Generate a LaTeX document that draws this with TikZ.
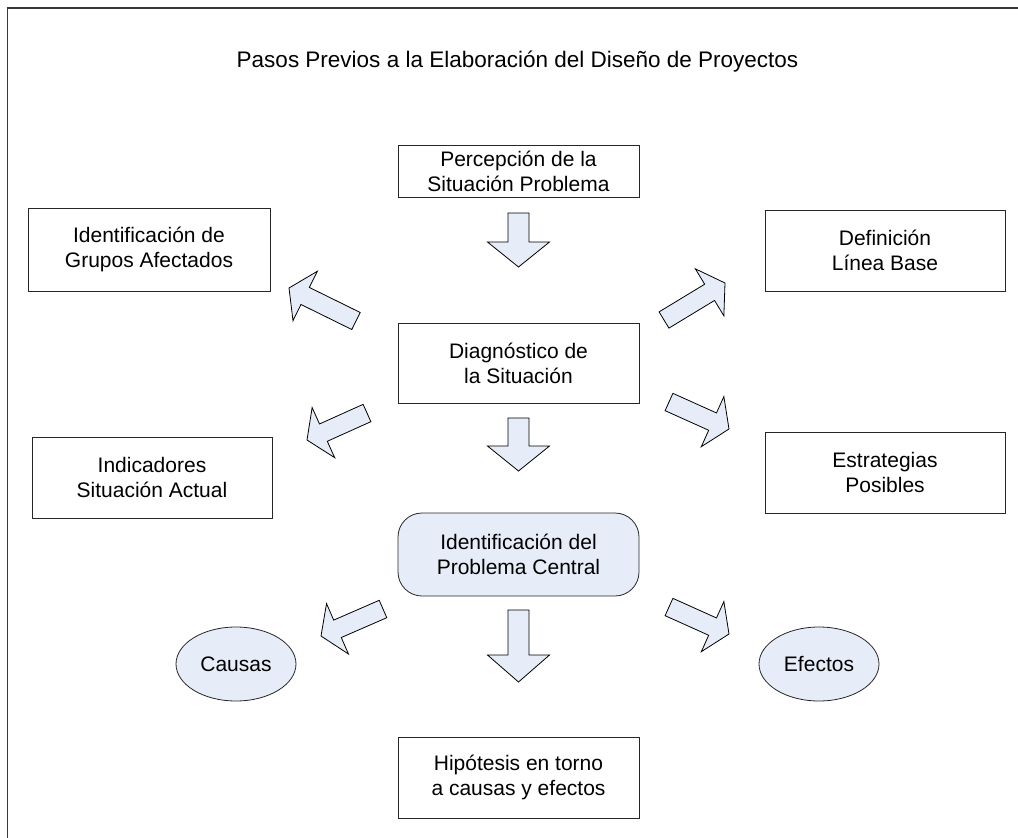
\documentclass[tikz,border=0pt]{standalone}
\usepackage{fontspec}
\setmainfont{Liberation Sans}
\usetikzlibrary{calc,shapes.geometric}

\definecolor{paleblue}{RGB}{230,237,248}
\definecolor{framegray}{RGB}{55,55,55}

\newcommand\boxfont{\fontsize{21}{25}\selectfont}
\newcommand\titlefont{\fontsize{22.5}{27}\selectfont}

\tikzset{
  stepbox/.style={draw=black!85, line width=0.8pt, fill=white,
    minimum width=241pt, minimum height=81pt, align=center,
    inner sep=2pt, font=\boxfont},
  keybox/.style={stepbox, fill=paleblue, rounded corners=24pt},
  oval/.style={ellipse, draw=black!85, line width=0.8pt, fill=paleblue,
    minimum width=120pt, minimum height=74pt, inner sep=0pt, font=\boxfont},
  blockarrow/.style={draw=black, line width=0.8pt, fill=paleblue,
    line join=miter},
}

% block arrow: name, tail, tip, shaft half-width, head half-width, head length
\newcommand\blockarrow[6]{%
  \coordinate (#1-neck) at ($(#3)!#6!(#2)$);
  \draw[blockarrow]
    ($(#2)!#4!90:(#3)$) -- ($(#1-neck)!#4!90:(#3)$)
    -- ($(#1-neck)!#5!90:(#3)$) -- (#3)
    -- ($(#1-neck)!#5!-90:(#3)$) -- ($(#1-neck)!#4!-90:(#3)$)
    -- ($(#2)!#4!-90:(#3)$) -- cycle;
}

\begin{document}
\begin{tikzpicture}[x=1pt,y=-1pt]
  \useasboundingbox (0,0) rectangle (1018,838);

  % outer frame
  \draw[framegray, line width=1.5pt] (1018,8) -- (7.5,8) -- (7.5,838);

  % title
  \node[font=\titlefont] (title) at (517.5,62)
    {Pasos Previos a la Elaboración del Diseño de Proyectos};

  % boxes
  \node[stepbox, minimum height=52pt] (perc) at (518.5,171)
    {Percepción de la\\Situación Problema};
  \node[stepbox, minimum width=242pt, minimum height=83pt] (grupos) at (149,249.5)
    {Identificación de\\Grupos Afectados};
  \node[stepbox, minimum width=240pt] (linea) at (885,250.5)
    {Definición\\Línea Base};
  \node[stepbox, minimum height=80pt] (diag) at (518.5,363)
    {Diagnóstico de\\la Situación};
  \node[stepbox, minimum width=240pt] (indic) at (152,477.5)
    {Indicadores\\Situación Actual};
  \node[stepbox, minimum width=240pt] (estr) at (885,472.5)
    {Estrategias\\Posibles};
  \node[keybox, minimum height=83pt] (central) at (518.5,554.5)
    {Identificación del\\Problema Central};
  \node[oval] (causas) at (236,664) {Causas};
  \node[oval] (efectos) at (819,664) {Efectos};
  \node[stepbox] (hipo) at (518.5,777.5)
    {Hipótesis en torno\\a causas y efectos};

  % arrow ends
  \coordinate (d1t) at (518.5,213);  \coordinate (d1p) at (518.5,267);
  \coordinate (d2t) at (518.5,418);  \coordinate (d2p) at (518.5,471);
  \coordinate (d3t) at (518.5,610);  \coordinate (d3p) at (518.5,682);
  \coordinate (gat) at (356,321);    \coordinate (gap) at (289,288);
  \coordinate (lbt) at (664,320);    \coordinate (lbp) at (725,283);
  \coordinate (int) at (367,413);    \coordinate (inp) at (307,440);
  \coordinate (est) at (669,402);    \coordinate (esp) at (729,429);
  \coordinate (cat) at (383,609);    \coordinate (cap) at (321,636);
  \coordinate (eft) at (669,607);    \coordinate (efp) at (729,634);

  % arrows
  \blockarrow{d1}{d1t}{d1p}{10.5pt}{31pt}{25pt}
  \blockarrow{d2}{d2t}{d2p}{10.5pt}{31pt}{25pt}
  \blockarrow{d3}{d3t}{d3p}{10.5pt}{31pt}{27pt}
  \blockarrow{ga}{gat}{gap}{9.5pt}{27.5pt}{18pt}
  \blockarrow{lb}{lbt}{lbp}{9.5pt}{27.5pt}{18pt}
  \blockarrow{in}{int}{inp}{9.5pt}{27.5pt}{18pt}
  \blockarrow{es}{est}{esp}{9.5pt}{27.5pt}{18pt}
  \blockarrow{ca}{cat}{cap}{9.5pt}{27.5pt}{18pt}
  \blockarrow{ef}{eft}{efp}{9.5pt}{27.5pt}{18pt}
\end{tikzpicture}
\end{document}
